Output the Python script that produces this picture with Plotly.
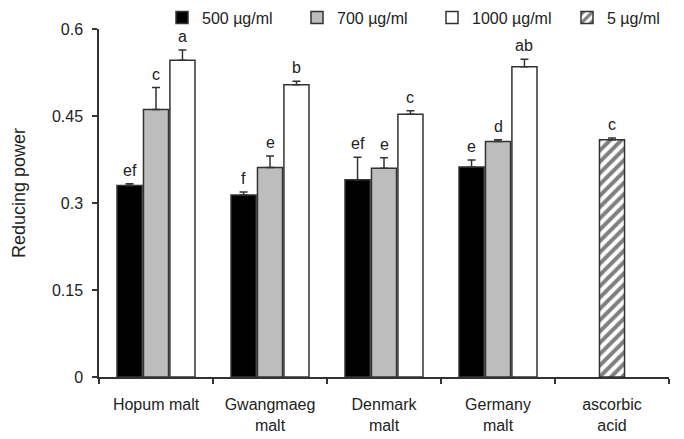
import plotly.graph_objects as go

categories = ["Hopum malt", "Gwangmaeg<br>malt", "Denmark<br>malt", "Germany<br>malt", "ascorbic<br>acid"]
malts = categories[:4]

v500 = [0.330, 0.314, 0.340, 0.362]
e500 = [0.003, 0.005, 0.039, 0.012]
l500 = ["ef", "f", "ef", "e"]

v700 = [0.461, 0.361, 0.360, 0.406]
e700 = [0.038, 0.020, 0.018, 0.003]
l700 = ["c", "e", "e", "d"]

v1000 = [0.546, 0.504, 0.453, 0.535]
e1000 = [0.018, 0.006, 0.006, 0.013]
l1000 = ["a", "b", "c", "ab"]

vasc = [0.409]
easc = [0.003]
lasc = ["c"]

FONT = "Liberation Sans, Arial, sans-serif"
LINE = "#333333"
W = 0.22

fig = go.Figure()

def add(name, xs, ys, es, offset, color, pattern=None):
    marker = dict(color=color, line=dict(color=LINE, width=1.5))
    if pattern:
        marker["pattern"] = pattern
    fig.add_trace(go.Bar(
        name=name, x=xs, y=ys, offset=offset, width=W, marker=marker,
        error_y=dict(type="data", array=es, arrayminus=[0] * len(es), symmetric=False,
                     color=LINE, thickness=1.5, width=4),
    ))

add("500 µg/ml", malts, v500, e500, -0.342, "#000000")
add("700 µg/ml", malts, v700, e700, -0.11, "#bdbdbd")
add("1000 µg/ml", malts, v1000, e1000, 0.122, "#ffffff")
add("5 µg/ml", categories[4:], vasc, easc, -0.11, "#ffffff",
    pattern=dict(shape="/", fgcolor="#000000", bgcolor="#ffffff", size=8, solidity=0.5))

annotations = []
def labels(vals, errs, labs, idxs, center):
    for v, e, t, i in zip(vals, errs, labs, idxs):
        annotations.append(dict(x=i + center, y=v + e, xref="x", yref="y", text=t,
                                showarrow=False, yanchor="bottom", yshift=3,
                                font=dict(family=FONT, size=16, color="#222")))

labels(v500, e500, l500, range(4), -0.232)
labels(v700, e700, l700, range(4), 0.0)
labels(v1000, e1000, l1000, range(4), 0.232)
labels(vasc, easc, lasc, [4], 0.0)

annotations.append(dict(text="Reducing power", xref="paper", yref="paper",
                        x=(19 - 99) / 570, y=(377 - 193) / 348, textangle=-90,
                        showarrow=False, xanchor="center", yanchor="middle",
                        font=dict(family=FONT, size=18, color="#222")))

fig.update_layout(
    width=684, height=439,
    margin=dict(l=99, r=15, t=29, b=62, autoexpand=False),
    paper_bgcolor="white", plot_bgcolor="white",
    barmode="overlay",
    showlegend=True,
    legend=dict(orientation="h", xref="container", yref="container",
                x=162 / 684, xanchor="left", y=1 - 17.5 / 439, yanchor="middle",
                font=dict(family=FONT, size=16, color="#222"),
                entrywidth=90, entrywidthmode="pixels", traceorder="normal",
                bgcolor="rgba(0,0,0,0)", borderwidth=0),
    annotations=annotations,
    font=dict(family=FONT, color="#222"),
)

fig.update_xaxes(type="category", categoryorder="array", categoryarray=categories,
                 range=[-0.5, 4.5], showline=True, linecolor=LINE, linewidth=1.5,
                 ticks="outside", tickson="boundaries", ticklen=5, tickcolor=LINE,
                 tickwidth=1.5, showgrid=False, zeroline=False, automargin=False,
                 ticklabelstandoff=12,
                 tickfont=dict(family=FONT, size=16, color="#222"))
fig.update_yaxes(range=[0, 0.6], tickvals=[0, 0.15, 0.3, 0.45, 0.6],
                 ticktext=["0", "0.15", "0.3", "0.45", "0.6"],
                 showline=True, linecolor=LINE, linewidth=1.5, ticks="outside",
                 ticklen=5, tickcolor=LINE, tickwidth=1.5, showgrid=False,
                 zeroline=False, automargin=False, ticklabelstandoff=6,
                 tickfont=dict(family=FONT, size=16, color="#222"))

fig.write_html("out.html")
